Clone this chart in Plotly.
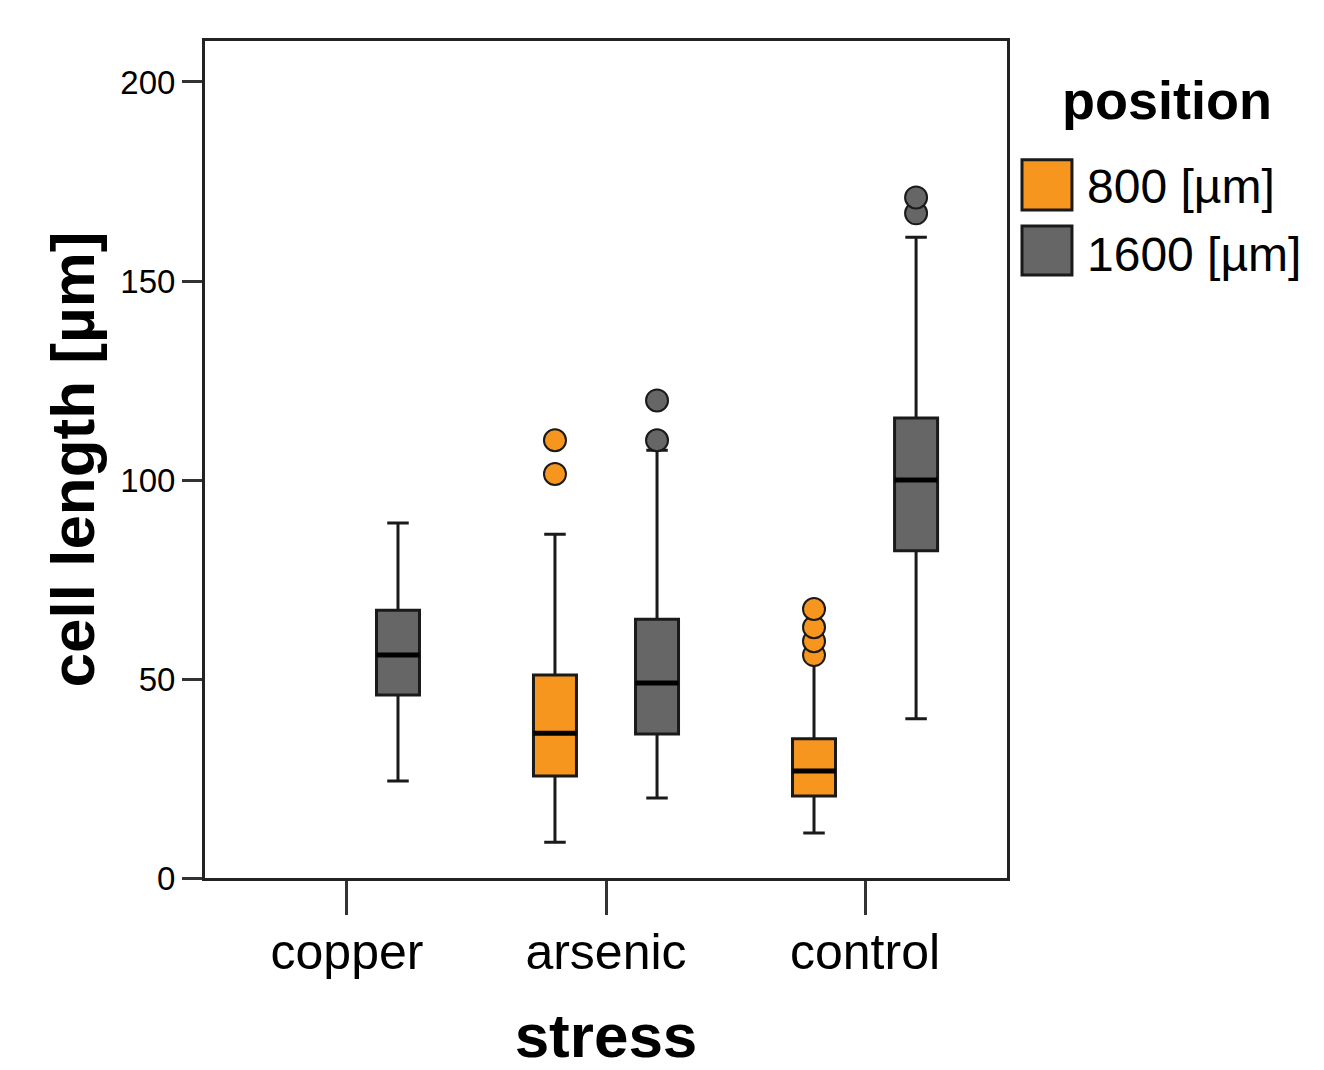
import plotly.graph_objects as go

categories = ["copper", "arsenic", "control"]
positions = ["800 [µm]", "1600 [µm]"]

# 800 µm series (copper has no data)
s800_cat = ["arsenic", "control"]
s800_low = [9.0, 11.3]
s800_q1 = [25.6, 20.6]
s800_med = [36.4, 26.9]
s800_q3 = [51.0, 35.0]
s800_high = [86.4, 55.5]
s800_out_cat = ["arsenic", "arsenic", "control", "control", "control", "control"]
s800_out_val = [101.5, 110.0, 56.0, 59.5, 63.0, 67.6]

# 1600 µm series
s1600_cat = ["copper", "arsenic", "control"]
s1600_low = [24.4, 20.1, 40.0]
s1600_q1 = [46.0, 36.2, 82.2]
s1600_med = [56.0, 49.0, 100.0]
s1600_q3 = [67.3, 65.0, 115.6]
s1600_high = [89.2, 107.5, 161.0]
s1600_out_cat = ["arsenic", "arsenic", "control", "control"]
s1600_out_val = [110.0, 120.0, 167.0, 171.0]

y_ticks = [0, 50, 100, 150, 200]

ORANGE = "#F7961E"
GRAY = "#666666"
EDGE = "#1a1a1a"
FONT = "Liberation Sans, Arial, sans-serif"

offset = 0.197
bw = 0.166

series = [
    (positions[0], ORANGE, -offset, s800_cat, s800_low, s800_q1, s800_med, s800_q3, s800_high, s800_out_cat, s800_out_val),
    (positions[1], GRAY, offset, s1600_cat, s1600_low, s1600_q1, s1600_med, s1600_q3, s1600_high, s1600_out_cat, s1600_out_val),
]

fig = go.Figure()
for name, color, off, cats, lo, q1, med, q3, hi, ocat, oval in series:
    xs = [categories.index(c) + off for c in cats]
    fig.add_trace(go.Box(
        name=name, x=xs, q1=q1, median=med, q3=q3, lowerfence=lo, upperfence=hi,
        width=bw, whiskerwidth=0.5, fillcolor=color,
        line=dict(color=EDGE, width=3), boxpoints=False, showlegend=False,
        hoverinfo="skip",
    ))
    # thicker median bars
    mx, my = [], []
    for x, m in zip(xs, med):
        mx += [x - bw / 2, x + bw / 2, None]
        my += [m, m, None]
    fig.add_trace(go.Scatter(x=mx, y=my, mode="lines", line=dict(color="black", width=5),
                             showlegend=False, hoverinfo="skip"))
    oxs = [categories.index(c) + off for c in ocat]
    fig.add_trace(go.Scatter(
        x=oxs, y=oval, mode="markers", showlegend=False,
        marker=dict(symbol="circle", size=22, color=color, line=dict(color=EDGE, width=2)),
    ))

# custom legend
fig.add_annotation(x=1.2, y=0.9295, xref="paper", yref="paper", text="<b>position</b>",
                   showarrow=False, font=dict(family=FONT, size=54, color="black"),
                   xanchor="center", yanchor="middle")
leg = [(ORANGE, positions[0], 0.798, 0.858, 0.826), (GRAY, positions[1], 0.7204, 0.779, 0.745)]
for color, label, y0, y1, ty in leg:
    fig.add_shape(type="rect", xref="paper", yref="paper", x0=1.0187, x1=1.081, y0=y0, y1=y1,
                  fillcolor=color, line=dict(color=EDGE, width=3))
    fig.add_annotation(x=1.097, y=ty, xref="paper", yref="paper", text=label, showarrow=False,
                       font=dict(family=FONT, size=48, color="black"), xanchor="left", yanchor="middle")

fig.update_layout(
    width=1316, height=1062,
    margin=dict(l=197, r=317, t=33, b=192),
    paper_bgcolor="white", plot_bgcolor="white",
    boxmode="overlay", showlegend=False,
    font=dict(family=FONT, color="black"),
)
fig.update_xaxes(
    range=[-0.548, 2.548], tickmode="array", tickvals=list(range(len(categories))), ticktext=categories,
    ticks="outside", ticklen=34, tickwidth=3, tickcolor="#333333",
    showline=True, linecolor="#222222", linewidth=3, mirror=True, showgrid=False, zeroline=False,
    tickfont=dict(family=FONT, size=50, color="black"), ticklabelstandoff=-6, automargin=False,
    title=dict(text="<b>stress</b>", font=dict(family=FONT, size=62, color="black"), standoff=41),
)
fig.update_yaxes(
    range=[0, 210.3], tickmode="array", tickvals=y_ticks, ticktext=[str(v) for v in y_ticks],
    ticks="outside", ticklen=20, tickwidth=3, tickcolor="#333333",
    showline=True, linecolor="#222222", linewidth=3, mirror=True, showgrid=False, zeroline=False,
    tickfont=dict(family=FONT, size=33, color="black"),
    title=dict(text="<b>cell length [µm]</b>", font=dict(family=FONT, size=62, color="black"), standoff=6),
)

fig.write_html("out.html")
